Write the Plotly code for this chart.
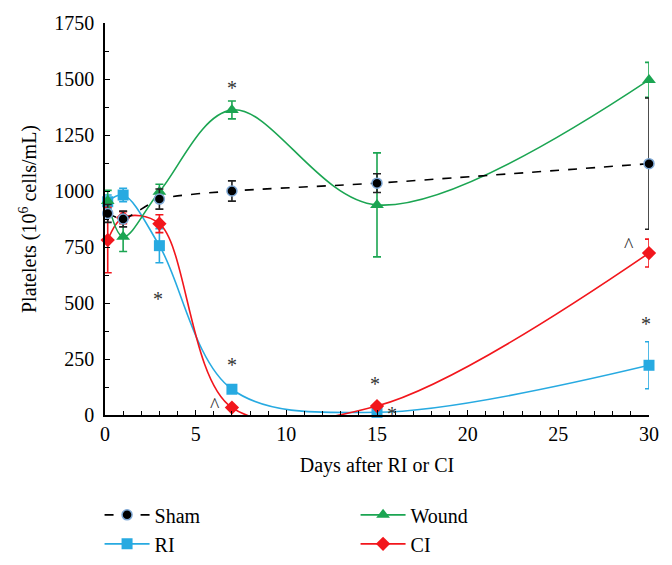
import plotly.graph_objects as go

days = [0.15, 1, 3, 7, 15, 30]

sham = [900, 875, 964, 1000, 1035, 1122]
sham_err = [40, 35, 45, 45, 42, 293]

wound = [955, 796, 997, 1362, 938, 1496]
wound_err = [48, 66, 33, 40, 232, 78]

ri = [952, 982, 756, 115, 12, 222]
ri_err = [30, 30, 76, 10, 8, 105]

ci = [781, 881, 854, 33, 40, 723]
ci_err = [146, 27, 40, 8, 8, 62]

marks_x = [7, 2.9, 7, 6.05, 14.9, 15.8, 29.85, 28.9]
marks_y = [1460, 520, 225, 45, 140, 5, 405, 760]
marks_t = ["*", "*", "*", "^", "*", "*", "*", "^"]

FONT = "Liberation Serif"
FS = 20
GREEN = "#1BA552"
BLUE = "#27AAE1"
RED = "#F2161C"

fig = go.Figure()

def add(name, y, err, color, symbol, size, dash, rank):
    fig.add_trace(go.Scatter(
        x=days, y=y, name=name, mode="lines+markers",
        line=dict(color=color, width=1.6, shape="spline", smoothing=1.0, dash=dash),
        marker=dict(symbol=symbol, size=size, color=color, line=dict(width=0)),
        error_y=dict(type="data", array=err, visible=True, color=color, thickness=1.6, width=4),
        legendrank=rank, cliponaxis=False,
    ))

add("RI", ri, ri_err, BLUE, "square", 11, "solid", 3)
add("CI", ci, ci_err, RED, "diamond", 11, "solid", 4)
add("Wound", wound, wound_err, GREEN, "triangle-up", 12, "solid", 2)
fig.add_trace(go.Scatter(
    x=days, y=sham, name="Sham", mode="lines+markers",
    line=dict(color="black", width=1.6, shape="spline", smoothing=0.6, dash="dash"),
    marker=dict(symbol="circle", size=10, color="black", line=dict(color="#7FA9D6", width=1.5)),
    error_y=dict(type="data", array=sham_err, visible=True, color="#222222", thickness=1.6, width=4),
    legendrank=1, cliponaxis=False,
))

for xx, yy, tt in zip(marks_x, marks_y, marks_t):
    fig.add_annotation(x=xx, y=yy, text=tt, showarrow=False,
                       font=dict(family=FONT, size=FS, color="#333333"))

fig.update_layout(
    width=672, height=565,
    margin=dict(l=105, r=23, t=23, b=150, autoexpand=False),
    paper_bgcolor="white", plot_bgcolor="white",
    font=dict(family=FONT, size=FS, color="black"),
    showlegend=True,
    legend=dict(orientation="h", x=-0.01, y=-0.205, xanchor="left", yanchor="top",
                entrywidth=196, entrywidthmode="pixels", traceorder="normal",
                font=dict(family=FONT, size=FS), itemwidth=45, tracegroupgap=0),
)
fig.update_xaxes(
    range=[0, 30], showgrid=False, zeroline=False, showline=True, linecolor="black", linewidth=1.5,
    ticks="inside", tickcolor="black", ticklen=5, tickwidth=1.2, dtick=5,
    minor=dict(ticks="inside", dtick=1, ticklen=4, tickcolor="black", tickwidth=1),
    title=dict(text="Days after RI or CI", standoff=14, font=dict(family=FONT, size=FS)),
    tickfont=dict(family=FONT, size=FS),
)
fig.update_yaxes(
    range=[0, 1750], showgrid=False, zeroline=False, showline=True, linecolor="black", linewidth=1.5,
    ticks="inside", tickcolor="black", ticklen=5, tickwidth=1.2, dtick=250,
    minor=dict(ticks="inside", dtick=125, ticklen=4, tickcolor="black", tickwidth=1),
    ticklabelstandoff=5,
    title=dict(text="Platelets (10<sup>6</sup> cells/mL)", standoff=12, font=dict(family=FONT, size=FS)),
    tickfont=dict(family=FONT, size=FS),
)

fig.write_html("out.html", config={"displayModeBar": False},
               post_script="document.body.style.margin='0';")
